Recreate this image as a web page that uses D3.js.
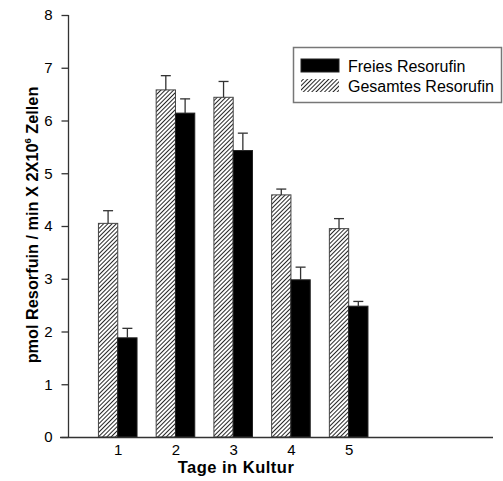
<!DOCTYPE html>
<html><head><meta charset="utf-8">
<script src="https://cdn.jsdelivr.net/npm/d3@7"></script>
<style>
body{margin:0;background:#fff;}
svg{display:block;font-family:"Liberation Sans",Arial,sans-serif;}
</style></head>
<body>
<svg id="c" width="503" height="481"></svg>
<script>
const days = [1, 2, 3, 4, 5];
const gesamt = [4.05, 6.58, 6.44, 4.59, 3.95];
const gesamtErr = [0.24, 0.27, 0.30, 0.11, 0.19];
const freies = [1.88, 6.14, 5.43, 2.98, 2.48];
const freiesErr = [0.18, 0.27, 0.33, 0.24, 0.09];
const yTicks = [0, 1, 2, 3, 4, 5, 6, 7, 8];
const seriesNames = ["Freies Resorufin", "Gesamtes Resorufin"];

const svg = d3.select("#c");
const defs = svg.append("defs");
const pat = defs.append("pattern").attr("id","hatch").attr("patternUnits","userSpaceOnUse")
  .attr("width",3).attr("height",3).attr("patternTransform","rotate(45)");
pat.append("rect").attr("width",3).attr("height",3).attr("fill","#fff");
pat.append("line").attr("x1",0).attr("y1",0).attr("x2",0).attr("y2",3).attr("stroke","#000").attr("stroke-width",1.7);

const y = d3.scaleLinear().domain([0, 8]).range([437, 15]);
const x = d3.scaleLinear().domain([0, 7.5]).range([60, 493]);
const barW = 19.3;
const axisColor = "#333";

// bars
const g = svg.append("g");
days.forEach((d, i) => {
  const cx = x(d);
  g.append("rect").attr("x", cx - barW).attr("y", y(gesamt[i])).attr("width", barW)
    .attr("height", y(0) - y(gesamt[i])).attr("fill","url(#hatch)").attr("stroke","#444").attr("stroke-width",1);
  g.append("rect").attr("x", cx).attr("y", y(freies[i])).attr("width", barW)
    .attr("height", y(0) - y(freies[i])).attr("fill","#000").attr("stroke","#222").attr("stroke-width",1);
  [[cx - barW/2, gesamt[i], gesamtErr[i]], [cx + barW/2, freies[i], freiesErr[i]]].forEach(([ex, v, e]) => {
    g.append("line").attr("x1", ex).attr("x2", ex).attr("y1", y(v)).attr("y2", y(v+e)).attr("stroke","#333").attr("stroke-width",1.3);
    g.append("line").attr("x1", ex-5).attr("x2", ex+5).attr("y1", y(v+e)).attr("y2", y(v+e)).attr("stroke","#333").attr("stroke-width",1.3);
  });
});

// y axis
const ya = svg.append("g").attr("transform","translate(68.5,0)")
  .call(d3.axisLeft(y).tickValues(yTicks).tickSize(7).tickPadding(9).tickFormat(d3.format("d")));
ya.select(".domain").attr("stroke",axisColor).attr("stroke-width",1.3).attr("d","M0,"+y(8)+"V"+y(0));
ya.selectAll(".tick line").attr("stroke",axisColor).attr("stroke-width",1.3);
ya.selectAll("text").attr("font-size",15).attr("font-family","Liberation Sans, Arial, sans-serif").attr("fill","#000");

// x axis
const xa = svg.append("g").attr("transform","translate(0,"+(y(0)+0.5)+")")
  .call(d3.axisBottom(x).tickValues(days).tickSize(0).tickPadding(7).tickFormat(d3.format("d")));
xa.select(".domain").attr("stroke",axisColor).attr("stroke-width",1.3).attr("d","M"+x(0)+",0H"+x(7.5));
xa.selectAll("text").attr("font-size",15).attr("font-family","Liberation Sans, Arial, sans-serif").attr("fill","#000");

// axis titles
svg.append("text").attr("x", 236).attr("y", 473).attr("text-anchor","middle")
  .attr("font-size",16.5).attr("font-weight","bold").attr("letter-spacing","0.5").text("Tage in Kultur");
const yt = svg.append("text").attr("transform","translate(37.5,225) rotate(-90)").attr("text-anchor","middle")
  .attr("font-size",16.3).attr("font-weight","bold");
yt.append("tspan").text("pmol Resorfuin / min X 2X10");
yt.append("tspan").attr("font-size",9.5).attr("dy",-7).text("6");
yt.append("tspan").attr("dy",7).text(" Zellen");

// legend
const lg = svg.append("g");
lg.append("rect").attr("x",293.5).attr("y",47.5).attr("width",208).attr("height",55)
  .attr("fill","#fff").attr("stroke","#777").attr("stroke-width",1.5);
const fills = ["#000", "url(#hatch)"];
seriesNames.forEach((n, i) => {
  lg.append("rect").attr("x",301).attr("y",59 + i*20).attr("width",38).attr("height",13)
    .attr("fill",fills[i]).attr("stroke", i===0 ? "#222" : "none");
  lg.append("text").attr("x",348).attr("y",72 + i*20).attr("font-size",16).text(n);
});
</script>
</body></html>
